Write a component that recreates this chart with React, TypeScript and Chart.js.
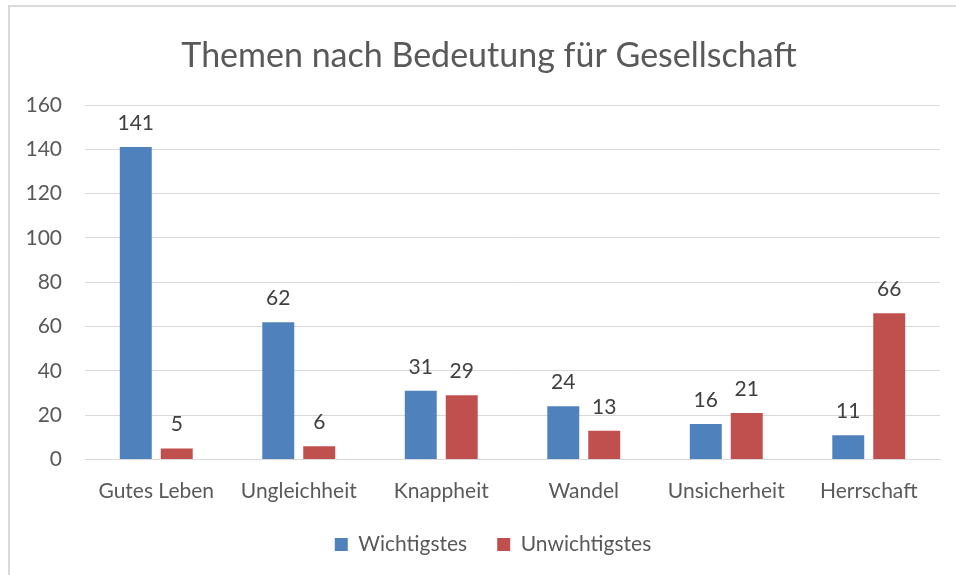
import React, { useEffect, useRef } from "react";
import { Chart, registerables } from "chart.js";

Chart.register(...registerables);

const titleText = "Themen nach Bedeutung für Gesellschaft";
const categories = ["Gutes Leben", "Ungleichheit", "Knappheit", "Wandel", "Unsicherheit", "Herrschaft"];
const seriesNames = ["Wichtigstes", "Unwichtigstes"];
const wichtigstes = [141, 62, 31, 24, 16, 11];
const unwichtigstes = [5, 6, 29, 13, 21, 66];
const yMin = 0;
const yMax = 160;
const yStep = 20;

const FONT = "Lato, 'Open Sans', sans-serif";
const BLUE = "#4F81BD";
const RED = "#C0504D";
const GRID = "#d9d9d9";
const AXIS_TEXT = "#595959";
const LABEL_TEXT = "#404040";

const dataLabels = {
  id: "dataLabels",
  afterDatasetsDraw(chart: any) {
    const ctx = chart.ctx;
    ctx.save();
    ctx.font = `21px ${FONT}`;
    ctx.fillStyle = LABEL_TEXT;
    ctx.textAlign = "center";
    ctx.textBaseline = "alphabetic";
    chart.data.datasets.forEach((ds: any, i: number) => {
      const meta = chart.getDatasetMeta(i);
      meta.data.forEach((el: any, j: number) => {
        ctx.fillText(String(ds.data[j]), el.x, el.y - 17);
      });
    });
    ctx.restore();
  },
};

// shift legend and title boxes horizontally so they are centred like the reference
const boxShift = {
  id: "boxShift",
  beforeDraw(chart: any) {
    if (chart.legend) chart.legend.left = 46;
    if (chart.titleBlock) chart.titleBlock.left = 38;
  },
};

export default function App() {
  const ref = useRef<HTMLCanvasElement | null>(null);

  useEffect(() => {
    if (!ref.current) return;
    const chart = new Chart(ref.current, {
      type: "bar",
      data: {
        labels: categories,
        datasets: [
          {
            label: seriesNames[0],
            data: wichtigstes,
            backgroundColor: BLUE,
            categoryPercentage: 0.575,
            barPercentage: 0.78,
          },
          {
            label: seriesNames[1],
            data: unwichtigstes,
            backgroundColor: RED,
            categoryPercentage: 0.575,
            barPercentage: 0.78,
          },
        ],
      },
      options: {
        responsive: false,
        animation: false,
        layout: { padding: { left: 0, right: 16, top: 0, bottom: 10 } },
        plugins: {
          title: {
            display: true,
            text: titleText,
            color: AXIS_TEXT,
            font: { family: FONT, size: 34, weight: "normal" },
            padding: { top: 36, bottom: 28.2 },
          },
          legend: {
            position: "bottom",
            labels: {
              color: AXIS_TEXT,
              font: { family: FONT, size: 21 },
              boxWidth: 13,
              boxHeight: 13,
              padding: 30,
            },
          },
          tooltip: { enabled: false },
        },
        scales: {
          x: {
            grid: { display: false, drawTicks: false },
            border: { display: true, color: GRID, width: 1 },
            ticks: {
              color: AXIS_TEXT,
              font: { family: FONT, size: 21 },
              padding: 19,
              maxRotation: 0,
            },
            afterFit: (s: any) => {
              s.height = 44.5;
            },
          },
          y: {
            min: yMin,
            max: yMax,
            grid: { color: GRID, lineWidth: 1, drawTicks: false },
            border: { display: false },
            ticks: {
              stepSize: yStep,
              color: AXIS_TEXT,
              font: { family: FONT, size: 21 },
              padding: 23,
            },
            afterFit: (s: any) => {
              s.width = 85;
            },
          },
        },
      },
      plugins: [dataLabels, boxShift],
    });
    return () => chart.destroy();
  }, []);

  return (
    <div style={{ position: "absolute", left: 0, top: 0, width: 956, height: 575, background: "#fff", overflow: "hidden" }}>
      <div
        style={{
          position: "absolute",
          left: 8,
          top: 5,
          width: 960,
          height: 600,
          border: `2px solid ${GRID}`,
          boxSizing: "border-box",
        }}
      />
      <canvas ref={ref} width={956} height={575} style={{ position: "absolute", left: 0, top: 0 }} />
    </div>
  );
}
